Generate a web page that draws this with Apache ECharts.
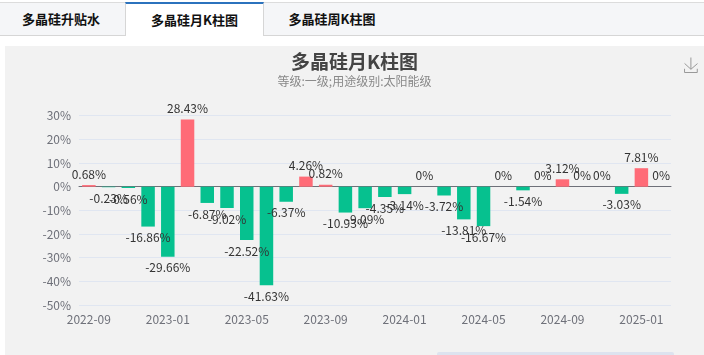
<!DOCTYPE html>
<html>
<head>
<meta charset="utf-8">
<script src="https://cdn.jsdelivr.net/npm/echarts@6/dist/echarts.min.js"></script>
<style>
html,body{margin:0;padding:0;background:#fff;width:704px;height:355px;overflow:hidden;font-family:"Noto Sans CJK SC",sans-serif;}
#tabs{position:absolute;left:0;top:2px;width:704px;height:32px;background:#f5f6f8;border-top:1px solid #dcdcdc;border-bottom:1px solid #d6d6d6;}
.tab{position:absolute;top:0;height:32px;line-height:32px;font-size:13px;font-weight:bold;color:#111;text-align:center;}
.tab.sel{top:-1px;height:34px;background:#fff;border-top:2px solid #2b72bd;border-left:1px solid #d6d6d6;border-right:1px solid #d6d6d6;box-sizing:border-box;line-height:31px;}
#chart{position:absolute;left:5px;top:46px;width:699px;height:309px;}
</style>
</head>
<body>
<div id="tabs">
  <div class="tab" style="left:0;width:122px;">多晶硅升贴水</div>
  <div class="tab sel" style="left:125px;width:139px;">多晶硅月K柱图</div>
  <div class="tab" style="left:264px;width:136px;">多晶硅周K柱图</div>
</div>
<div id="chart"></div>
<script>
var categories = ["2022-09","2022-10","2022-11","2022-12","2023-01","2023-02","2023-03","2023-04","2023-05","2023-06","2023-07","2023-08","2023-09","2023-10","2023-11","2023-12","2024-01","2024-02","2024-03","2024-04","2024-05","2024-06","2024-07","2024-08","2024-09","2024-10","2024-11","2024-12","2025-01","2025-02"];
var values = [0.68,-0.23,-0.56,-16.86,-29.66,28.43,-6.87,-9.02,-22.52,-41.63,-6.37,4.26,0.82,-10.93,-9.09,-4.35,-3.14,0,-3.72,-13.81,-16.67,0,-1.54,0,3.12,0,0,-3.03,7.81,0];
var yTicks = [-50,-40,-30,-20,-10,0,10,20,30];
var titleText = "多晶硅月K柱图";
var subtitleText = "等级:一级;用途级别:太阳能级";

var UP = "#ff6b77", DOWN = "#06c18f";
var FONT = "Noto Sans CJK SC";
var chart = echarts.init(document.getElementById('chart'), null, {renderer:'canvas'});
var data = values.map(function(v){
  return {
    value: v,
    itemStyle: {color: v >= 0 ? UP : DOWN},
    label: {position: v >= 0 ? 'top' : 'bottom'}
  };
});
chart.setOption({
  backgroundColor: '#f2f2f2',
  animation: false,
  textStyle: {fontFamily: FONT},
  title: {
    text: titleText,
    subtext: subtitleText,
    left: 'center',
    top: 1,
    itemGap: 4,
    textStyle: {fontSize: 19, fontWeight: 'bold', color: '#444', fontFamily: FONT},
    subtextStyle: {fontSize: 12, color: '#888', fontFamily: FONT}
  },
  toolbox: {
    right: -11, top: -6, itemSize: 15,
    iconStyle: {borderColor: '#999'},
    feature: {saveAsImage: {title: ''}}
  },
  grid: {left: 74, right: 33, top: 69.7, bottom: 50},
  xAxis: {
    type: 'category',
    data: categories,
    boundaryGap: true,
    axisLine: {lineStyle: {color: '#6e7079'}},
    axisTick: {interval: 3, lineStyle: {color: '#6e7079'}},
    axisLabel: {interval: 3, color: '#6e7079', fontSize: 12, margin: 8}
  },
  yAxis: {
    type: 'value',
    min: yTicks[0], max: yTicks[yTicks.length-1], interval: 10,
    axisLabel: {formatter: '{value}%', color: '#6e7079', fontSize: 12, margin: 8},
    splitLine: {lineStyle: {color: '#e0e6f1'}}
  },
  series: [{
    type: 'bar',
    data: data,
    barWidth: 13.5,
    label: {
      show: true,
      formatter: function(p){ return p.value + '%'; },
      fontSize: 12,
      color: '#333',
      distance: 5
    }
  }],
  graphic: [{
    type: 'rect',
    shape: {x: 432, y: 306, width: 237, height: 10, r: 2},
    style: {fill: '#dde3ef'}
  }]
});
</script>
</body>
</html>
